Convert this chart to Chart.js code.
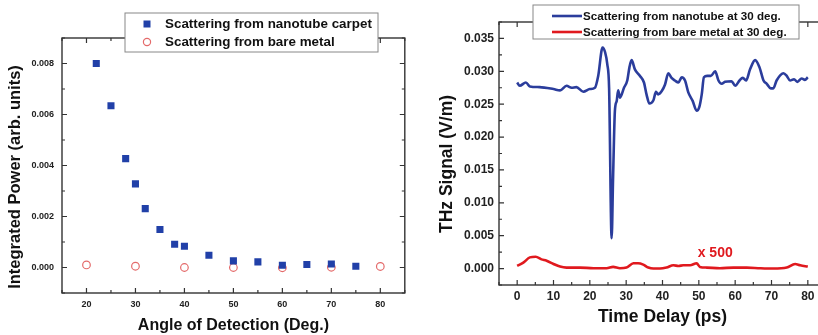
<!DOCTYPE html>
<html>
<head>
<meta charset="utf-8">
<script src="https://cdn.jsdelivr.net/npm/chart.js@4.4.0/dist/chart.umd.min.js"></script>
<style>
  html, body { margin: 0; padding: 0; background: #fff; overflow: hidden; width: 818px; height: 335px; position: relative; }
  #left  { position: absolute; left: 0;     top: 0; width: 410px; height: 335px; }
  #right { position: absolute; left: 420px; top: 0; width: 410px; height: 335px; }
</style>
</head>
<body>
<div id="left"><canvas id="cLeft"></canvas></div>
<div id="right"><canvas id="cRight"></canvas></div>
<script>
// ---- left panel: integrated power vs angle
const angleCarpet = [22, 25, 28, 30, 32, 35, 38, 40, 45, 50, 55, 60, 65, 70, 75];
const powerCarpet = [0.0080, 0.00634, 0.00427, 0.00328, 0.00231, 0.00149, 0.00091, 0.00083, 0.00048, 0.00026, 0.00022, 0.00009, 0.00012, 0.00014, 0.00005];
const angleMetal = [20, 30, 40, 50, 60, 70, 80];
const powerMetal = [0.00010, 0.00005, 0.0, 0.0, -0.00001, 0.00001, 0.00004];
const leftXTicks = [20, 30, 40, 50, 60, 70, 80];
const leftYTicks = [0, 0.002, 0.004, 0.006, 0.008];

// ---- right panel: THz signal vs time delay
const timeNano = [0, 0.7, 2.4, 3.5, 6.2, 10, 11.8, 13.6, 15, 16.3, 18.2, 20, 21.4, 22.3, 23.5, 24.2, 24.8, 25.3, 26, 26.4, 26.9, 27.4, 27.8, 28.3, 29.4, 30.3, 30.9, 31.5, 32.4, 33.8, 34.9, 35.6, 36.4, 37.5, 38.2, 38.8, 39.8, 40.7, 41.6, 42.5, 43.4, 44.4, 45.3, 46.2, 47.1, 48.3, 49.4, 50.1, 50.8, 51.4, 52.3, 53.3, 54.5, 55.4, 56.3, 57.2, 59, 60, 61.2, 62.1, 63, 64.1, 65.5, 66.7, 67.8, 68.7, 69.8, 70.5, 71.4, 73.3, 74.2, 75.1, 76.2, 77.1, 78.3, 79.2, 80];
const signalNano = [0.0283, 0.0278, 0.0283, 0.0277, 0.0276, 0.0273, 0.0271, 0.0278, 0.0275, 0.0276, 0.0269, 0.0273, 0.0275, 0.0293, 0.0336, 0.0329, 0.0311, 0.0275, 0.0046, 0.0139, 0.0240, 0.0255, 0.0271, 0.0260, 0.0275, 0.0286, 0.0306, 0.0317, 0.0303, 0.0293, 0.0283, 0.0265, 0.0251, 0.0256, 0.0269, 0.0265, 0.0270, 0.0280, 0.0297, 0.0290, 0.0286, 0.0283, 0.0291, 0.0286, 0.0268, 0.0255, 0.0240, 0.0245, 0.0265, 0.0291, 0.0293, 0.0293, 0.0300, 0.0286, 0.0281, 0.0284, 0.0285, 0.0278, 0.0286, 0.0290, 0.0286, 0.0303, 0.0317, 0.0306, 0.0286, 0.0281, 0.0274, 0.0274, 0.0286, 0.0297, 0.0293, 0.0286, 0.0288, 0.0284, 0.0289, 0.0287, 0.0291];
const timeMetal = [0, 1.7, 3.5, 5.1, 6.7, 8.1, 10, 11.8, 13.6, 17.3, 21, 24.6, 26.4, 28.3, 30.1, 32, 33.3, 34.7, 36.1, 37.5, 39.3, 41.1, 43, 44.4, 45.7, 47.6, 49.4, 50.3, 52.2, 55.8, 59.5, 63.2, 66.9, 70.5, 74.2, 76.5, 77.9, 80];
const signalMetal = [0.0004, 0.0009, 0.0017, 0.0018, 0.0014, 0.0012, 0.0007, 0.0003, 0.00015, 0.00015, 0.00005, 0.00005, 0.00025, 0.00005, 0.00015, 0.0008, 0.0008, 0.0006, 0.00015, 0, 0, 0.00015, 0.0005, 0.0004, 0.0005, 0.0005, 0.0008, 0.00025, 0.00015, 0.00005, 0.00015, 0.00015, 0.00005, 0, 0.00015, 0.0007, 0.0005, 0.0003];
const rightXTicks = [0, 10, 20, 30, 40, 50, 60, 70, 80];
const rightYTicks = [0, 0.005, 0.010, 0.015, 0.020, 0.025, 0.030, 0.035];
const metalNote = "x 500";

const FONT = "'Liberation Sans', Arial, sans-serif";
const pts = (xs, ys) => xs.map((v, i) => ({ x: v, y: ys[i] }));

// frame, inward ticks, legend box, y title, notes
const decor = {
  id: "decor",
  afterDraw(chart, args, o) {
    const { ctx, chartArea: a, scales } = chart;
    ctx.save();
    ctx.strokeStyle = "#333";
    ctx.lineWidth = 1.4;
    ctx.strokeRect(a.left, a.top, a.right - a.left, a.bottom - a.top);

    // tick marks, majors from the axis ticks, minors halfway
    ctx.lineWidth = 1.2;
    const mark = (scale, horiz) => {
      const vals = scale.ticks.map(t => t.value);
      const step = vals[1] - vals[0];
      const all = [];
      for (let v = vals[0] - step; v <= vals[vals.length - 1] + step; v += step / 2) {
        if (v >= scale.min - 1e-9 && v <= scale.max + 1e-9) all.push(v);
      }
      all.forEach(v => {
        const major = vals.some(m => Math.abs(m - v) < step / 10);
        const len = major ? 5 : 3;
        const p = scale.getPixelForValue(v);
        ctx.beginPath();
        if (horiz) {
          ctx.moveTo(p, a.bottom); ctx.lineTo(p, a.bottom - len);
          ctx.moveTo(p, a.top);    ctx.lineTo(p, a.top + len);
        } else {
          ctx.moveTo(a.left, p);  ctx.lineTo(a.left + len, p);
          ctx.moveTo(a.right, p); ctx.lineTo(a.right - len, p);
        }
        ctx.stroke();
      });
    };
    mark(scales.x, true);
    mark(scales.y, false);

    // legend
    const L = o.legend;
    ctx.fillStyle = "#fff";
    ctx.fillRect(L.x, L.y, L.w, L.h);
    ctx.strokeStyle = "#888";
    ctx.lineWidth = 1;
    ctx.strokeRect(L.x, L.y, L.w, L.h);
    ctx.font = "bold " + L.size + "px " + FONT;
    ctx.textBaseline = "middle";
    chart.data.datasets.forEach((ds, i) => {
      const cy = L.rowY[i];
      if (L.kind === "point") {
        if (ds.pointStyle === "rect") {
          ctx.fillStyle = ds.backgroundColor;
          ctx.fillRect(L.markX - 3.5, cy - 3.5, 7, 7);
        } else {
          ctx.strokeStyle = ds.borderColor;
          ctx.lineWidth = ds.borderWidth;
          ctx.beginPath(); ctx.arc(L.markX, cy, 3.6, 0, Math.PI * 2); ctx.stroke();
        }
      } else {
        ctx.strokeStyle = ds.borderColor;
        ctx.lineWidth = ds.borderWidth;
        ctx.beginPath(); ctx.moveTo(L.markX, cy); ctx.lineTo(L.markX + 30, cy); ctx.stroke();
      }
      ctx.fillStyle = "#111";
      ctx.textAlign = "left";
      ctx.fillText(ds.label, L.textX, cy + 0.5);
    });

    // rotated y title
    const T = o.yTitle;
    ctx.save();
    ctx.translate(T.x, T.y);
    ctx.rotate(-Math.PI / 2);
    ctx.font = "bold " + T.size + "px " + FONT;
    ctx.fillStyle = "#111";
    ctx.textAlign = "center";
    ctx.textBaseline = "middle";
    ctx.fillText(T.text, 0, 0);
    ctx.restore();

    if (o.note) {
      ctx.font = "bold 14px " + FONT;
      ctx.fillStyle = "#e0191e";
      ctx.textAlign = "center";
      ctx.textBaseline = "middle";
      ctx.fillText(o.note.text, scales.x.getPixelForValue(o.note.at[0]), scales.y.getPixelForValue(o.note.at[1]));
    }
    ctx.restore();
  }
};

function axis(ticks, min, max, fmt, size, pad, fit, title) {
  return {
    type: "linear", min, max,
    grid: { display: false, drawTicks: false },
    border: { display: false },
    afterBuildTicks: s => { s.ticks = ticks.map(v => ({ value: v })); },
    afterFit: fit,
    ticks: { callback: fmt, color: "#222", padding: pad, font: { family: FONT, size, weight: "bold" }, maxRotation: 0, autoSkip: false },
    title: title ? { display: true, text: title.text, color: "#111", padding: { top: 0, bottom: title.pad }, font: { family: FONT, size: title.size, weight: "bold" } } : { display: false }
  };
}

new Chart(document.getElementById("cLeft"), {
  type: "scatter",
  data: {
    datasets: [
      { label: "Scattering from nanotube carpet", data: pts(angleCarpet, powerCarpet), pointStyle: "rect", pointRadius: 5, backgroundColor: "#2140a8", borderColor: "#2140a8", borderWidth: 0 },
      { label: "Scattering from bare metal", data: pts(angleMetal, powerMetal), pointStyle: "circle", pointRadius: 3.8, backgroundColor: "rgba(0,0,0,0)", borderColor: "#e46a6a", borderWidth: 1.2 }
    ]
  },
  options: {
    responsive: true, maintainAspectRatio: false, animation: false,
    layout: { padding: { top: 38, right: 2, left: 0, bottom: 0 } },
    plugins: {
      legend: { display: false }, tooltip: { enabled: false },
      decor: {
        legend: { kind: "point", x: 125, y: 13, w: 253, h: 39, rowY: [24, 42], markX: 147, textX: 165, size: 13.4 },
        yTitle: { text: "Integrated Power (arb. units)", x: 15, y: 177, size: 16.5 }
      }
    },
    scales: {
      x: axis(leftXTicks, 15, 85, v => v, 9, 6, s => { s.height = 42; }, { text: "Angle of Detection (Deg.)", pad: 0, size: 16 }),
      y: axis(leftYTicks, -0.001, 0.009, v => v.toFixed(3), 9, 8, s => { s.width = 62; })
    }
  },
  plugins: [decor]
});

new Chart(document.getElementById("cRight"), {
  type: "line",
  data: {
    datasets: [
      { label: "Scattering from nanotube at 30 deg.", data: pts(timeNano, signalNano), borderColor: "#2b3d9c", borderWidth: 2.6, pointRadius: 0, cubicInterpolationMode: "monotone", fill: false },
      { label: "Scattering from bare metal at 30 deg.", data: pts(timeMetal, signalMetal), borderColor: "#e0191e", borderWidth: 2.6, pointRadius: 0, cubicInterpolationMode: "monotone", fill: false }
    ]
  },
  options: {
    responsive: true, maintainAspectRatio: false, animation: false,
    layout: { padding: { top: 22, right: 4, left: 0, bottom: 0 } },
    plugins: {
      legend: { display: false }, tooltip: { enabled: false },
      decor: {
        legend: { kind: "line", x: 113, y: 5, w: 266, h: 34, rowY: [16, 32], markX: 132, textX: 163, size: 11.6 },
        yTitle: { text: "THz Signal (V/m)", x: 27, y: 164, size: 17.5 },
        note: { text: metalNote, at: [54.5, 0.0024] }
      }
    },
    scales: {
      x: axis(rightXTicks, -5, 85, v => v, 12, 4, s => { s.height = 50; }, { text: "Time Delay (ps)", pad: 7, size: 17.5 }),
      y: axis(rightYTicks, -0.0025, 0.0375, v => v.toFixed(3), 12, 5, s => { s.width = 79; })
    }
  },
  plugins: [decor]
});
</script>
</body>
</html>
